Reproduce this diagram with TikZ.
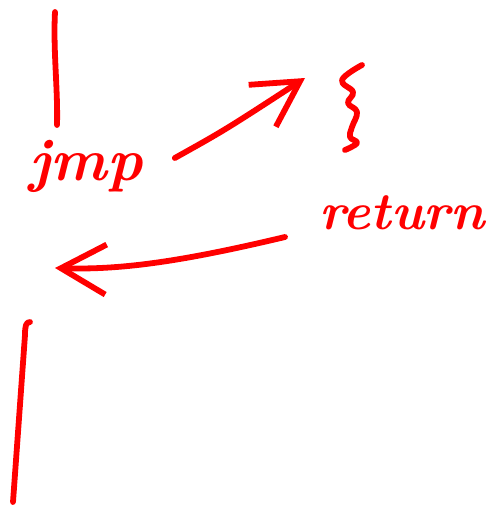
\documentclass[tikz,border=0pt]{standalone}
\usetikzlibrary{arrows.meta}
\definecolor{marker}{HTML}{FF0000}

\begin{document}
\begin{tikzpicture}[x=0.02cm,y=-0.02cm,>={Straight Barb[length=9mm,width=10mm]}]
  \tikzset{
    pen/.style={marker,line width=3.3pt,line cap=round,line join=round},
    scrawl/.style={text=marker,inner sep=0pt,
      font=\fontsize{34}{38}\selectfont\bfseries\itshape}
  }
  \useasboundingbox (0,0) rectangle (495,507);

  % caller: code before and after the call
  \draw[pen] (55,12) .. controls (53,50) and (58,90) .. (57,125);
  \draw[pen] (30,322) .. controls (26,322) and (25,326) .. (25,335)
    -- (13,502);

  \node[scrawl] (jmp) at (86,166) {jmp};
  \node[scrawl,font=\fontsize{30}{34}\selectfont\bfseries\itshape]
    (ret) at (402,213) {return};

  % callee body
  \draw[pen] plot[smooth,tension=.7] coordinates
    {(362,65) (342,80) (353,92) (348,103) (357,112) (352,127)
     (350,137) (357,143) (345,150)};
  \coordinate (body) at (305,78);
  \coordinate (back) at (55,268);

  \draw[pen,->] (jmp.east) ++(32,-8) .. controls (225,130) .. (body);
  \draw[pen,->] (285,237) .. controls (180,262) and (120,270) .. (back);
\end{tikzpicture}
\end{document}
